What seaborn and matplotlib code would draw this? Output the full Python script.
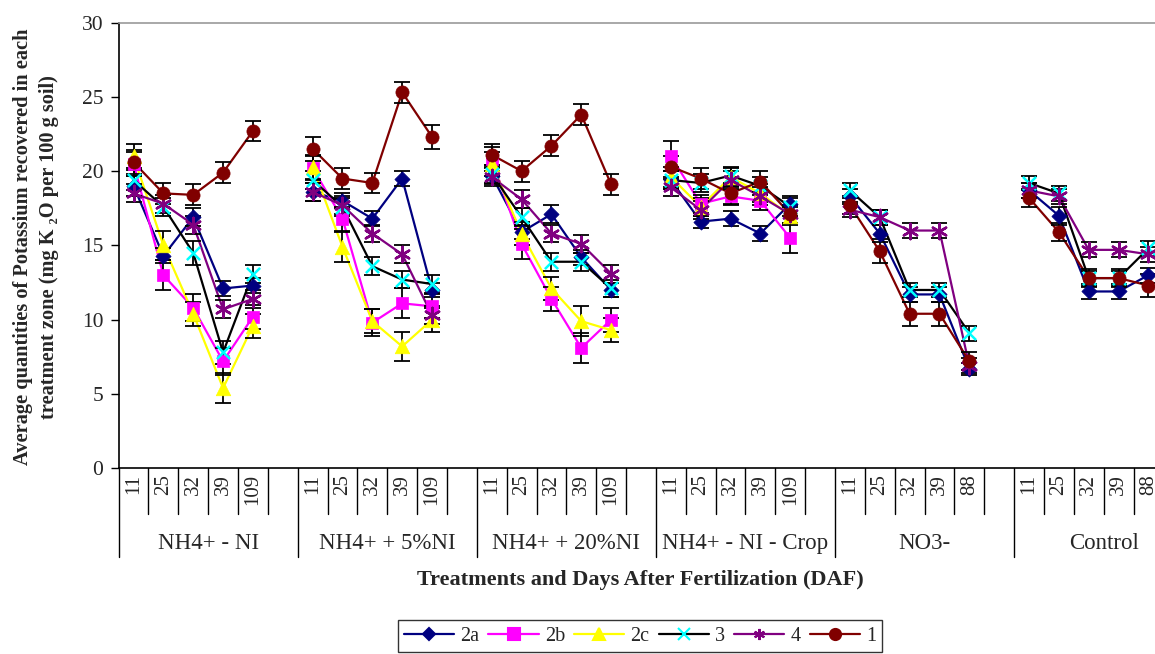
import numpy as np
import pandas as pd
import matplotlib
matplotlib.use("Agg")
import matplotlib.pyplot as plt
import matplotlib.transforms as mtransforms
from matplotlib.lines import Line2D
import seaborn as sns

# ---------------- data ----------------
treatments = ["NH4+ - NI", "NH4+ + 5%NI", "NH4+ + 20%NI", "NH4+ - NI - Crop", "NO3-", "Control"]
days = [
    ["11", "25", "32", "39", "109"],
    ["11", "25", "32", "39", "109"],
    ["11", "25", "32", "39", "109"],
    ["11", "25", "32", "39", "109"],
    ["11", "25", "32", "39", "88"],
    ["11", "25", "32", "39", "88"],
]
series_names = ["2a", "2b", "2c", "3", "4", "1"]
nan = np.nan

s2a = [19.0, 14.3, 16.9, 12.1, 12.3,
       18.6, 18.0, 16.8, 19.5, 12.0,
       19.7, 15.9, 17.1, 14.2, 12.0,
       19.4, 16.6, 16.8, 15.8, 17.8,
       18.3, 15.8, 11.7, 11.7, 6.7,
       18.7, 17.0, 11.9, 11.9, 13.0]
s2b = [20.5, 13.0, 10.8, 7.2, 10.2,
       20.2, 16.8, 9.8, 11.1, 10.9,
       20.8, 15.1, 11.4, 8.1, 10.0,
       21.0, 17.8, 18.3, 18.0, 15.5,
       nan, nan, nan, nan, nan,
       nan, nan, nan, nan, nan]
s2c = [21.0, 15.0, 10.4, 5.4, 9.6,
       20.3, 14.9, 9.9, 8.2, 10.0,
       20.5, 15.8, 12.1, 9.9, 9.3,
       19.6, 17.6, 19.6, 18.5, 17.0,
       nan, nan, nan, nan, nan,
       nan, nan, nan, nan, nan]
s3 = [19.4, 17.6, 14.5, 7.8, 13.1,
      19.4, 17.6, 13.6, 12.7, 12.4,
      19.8, 16.9, 13.9, 13.9, 12.1,
      19.4, 19.2, 19.7, 19.0, 17.6,
      18.7, 16.9, 12.0, 12.0, 9.1,
      19.2, 18.5, 12.8, 12.8, 14.8]
s4 = [18.5, 17.8, 16.4, 10.7, 11.4,
      18.6, 17.7, 15.8, 14.4, 10.3,
      19.6, 18.1, 15.8, 15.1, 13.1,
      18.9, 17.4, 19.4, 18.3, 17.1,
      17.4, 16.9, 16.0, 16.0, 6.9,
      18.7, 18.3, 14.7, 14.7, 14.4]
s1 = [20.6, 18.5, 18.4, 19.9, 22.7,
      21.5, 19.5, 19.2, 25.3, 22.3,
      21.1, 20.0, 21.7, 23.8, 19.1,
      20.3, 19.5, 18.5, 19.3, 17.1,
      17.7, 14.6, 10.4, 10.4, 7.2,
      18.2, 15.9, 12.8, 12.8, 12.3]

e2a = [0.7, 0.5, 0.6, 0.5, 0.5, 0.6, 0.5, 0.5, 0.5, 0.5, 0.6, 0.5, 0.6, 0.5, 0.5,
       0.6, 0.4, 0.5, 0.5, 0.5, 0.5, 0.6, 0.5, 0.5, 0.4, 0.5, 0.6, 0.5, 0.5, 0.5]
e2b = [0.8, 1.0, 0.9, 0.9, 0.8, 0.8, 0.8, 0.9, 1.0, 0.8, 0.8, 1.0, 0.8, 1.0, 0.8,
       1.0, 0.6, 0.6, 0.6, 1.0, nan, nan, nan, nan, nan, nan, nan, nan, nan, nan]
e2c = [0.8, 1.0, 0.8, 1.0, 0.8, 0.8, 1.0, 0.8, 1.0, 0.8, 0.8, 0.8, 0.8, 1.0, 0.8,
       0.7, 0.6, 0.6, 0.6, 0.6, nan, nan, nan, nan, nan, nan, nan, nan, nan, nan]
e3 = [0.7, 0.6, 0.8, 0.8, 0.6, 0.6, 0.6, 0.6, 0.6, 0.6, 0.6, 0.6, 0.6, 0.6, 0.6,
      0.6, 0.6, 0.6, 0.6, 0.6, 0.5, 0.5, 0.5, 0.5, 0.5, 0.5, 0.5, 0.5, 0.5, 0.5]
e4 = [0.6, 0.6, 0.6, 0.6, 0.6, 0.6, 0.6, 0.6, 0.6, 0.6, 0.6, 0.6, 0.6, 0.6, 0.6,
      0.6, 0.6, 0.6, 0.6, 0.6, 0.5, 0.5, 0.5, 0.5, 0.5, 0.5, 0.5, 0.5, 0.5, 0.5]
e1 = [0.8, 0.7, 0.7, 0.7, 0.7, 0.8, 0.7, 0.7, 0.7, 0.8, 0.7, 0.7, 0.7, 0.7, 0.7,
      0.7, 0.7, 0.7, 0.7, 0.6, 0.6, 0.8, 0.8, 0.8, 0.6, 0.6, 0.6, 0.6, 0.6, 0.8]

values = {"2a": s2a, "2b": s2b, "2c": s2c, "3": s3, "4": s4, "1": s1}
errors = {"2a": e2a, "2b": e2b, "2c": e2c, "3": e3, "4": e4, "1": e1}

line_colors = {"2a": "#000080", "2b": "#FF00FF", "2c": "#FFFF00", "3": "#000000", "4": "#800080", "1": "#800000"}
marker_colors = {"2a": "#000080", "2b": "#FF00FF", "2c": "#FFFF00", "3": "#00FFFF", "4": "#800080", "1": "#800000"}
markers = {"2a": "D", "2b": "s", "2c": "^", "3": "x", "4": (6, 2, 0), "1": "o"}
msizes = {"2a": 60, "2b": 80, "2c": 110, "3": 90, "4": 120, "1": 90}

# ---------------- long table ----------------
n_per = 5
slot = n_per + 1
rows = []
for s in series_names:
    for g in range(len(treatments)):
        for d in range(n_per):
            k = g * n_per + d
            rows.append(dict(series=s, group=g, pos=g * slot + d,
                             value=values[s][k], err=errors[s][k]))
df = pd.DataFrame(rows).dropna()

# ---------------- figure ----------------
sns.set_theme(style="white")
plt.rcParams["font.family"] = ["Liberation Serif", "DejaVu Serif"]

fig = plt.figure(figsize=(11.55, 6.54), dpi=100)
n_slots = len(treatments) * slot - 1
ax = fig.add_axes([118.6 / 1155, (654 - 468.3) / 654, n_slots * 29.85 / 1155, 445.8 / 654])

sns.lineplot(data=df, x="pos", y="value", hue="series", units="group", estimator=None,
             palette=line_colors, hue_order=series_names, legend=False, sort=False,
             linewidth=1.6, ax=ax, zorder=2)
ax.errorbar(df["pos"], df["value"], yerr=df["err"], fmt="none", ecolor="black",
            elinewidth=1.3, capsize=5.5, capthick=1.3, zorder=3)
for s in series_names:
    sub = df[df["series"] == s]
    m = markers[s]
    kw = dict(x=sub["pos"], y=sub["value"], marker=m, s=msizes[s], ax=ax, zorder=4, legend=False)
    if m in ("x",) or isinstance(m, tuple):
        sns.scatterplot(color=marker_colors[s], linewidth=1.8, **kw)
    else:
        sns.scatterplot(color=marker_colors[s], edgecolor=marker_colors[s], linewidth=0.5, **kw)

# axes styling
ax.set_xlim(-0.5, n_slots - 0.5)
ax.set_ylim(0, 30)
ax.set_yticks(range(0, 31, 5))
ax.tick_params(axis="y", which="major", left=True, length=6, width=1, color="black",
               labelsize=15.5, pad=5)
tick_pos = [g * slot + d for g in range(len(treatments)) for d in range(n_per)]
tick_lab = [days[g][d] for g in range(len(treatments)) for d in range(n_per)]
ax.set_xticks(tick_pos)
ax.set_xticklabels(tick_lab, rotation=90, fontsize=15)
ax.tick_params(axis="x", length=0, pad=4)
ax.set_xlabel("")
ax.set_ylabel("")
for sp in ["left", "bottom"]:
    ax.spines[sp].set_color("black")
    ax.spines[sp].set_linewidth(1.2)
ax.spines["top"].set_color("#9a9a9a")
ax.spines["top"].set_linewidth(1.2)
ax.spines["right"].set_visible(False)

# category dividers and group labels
trans = mtransforms.blended_transform_factory(ax.transData, ax.transAxes)
for k in range(0, n_slots):
    xk = k - 0.5
    if k % slot == 0:
        ax.plot([xk, xk], [0, -0.20], transform=trans, clip_on=False, color="black", lw=1.0)
    else:
        ax.plot([xk, xk], [0, -0.103], transform=trans, clip_on=False, color="black", lw=1.0)
for g, name in enumerate(treatments):
    ax.text(g * slot + 2.5, -0.168, name, transform=trans, ha="center", va="center", fontsize=16.5)

# titles
fig.text(640 / 1155, 1 - 580 / 654, "Treatments and Days After Fertilization (DAF)",
         ha="center", va="center", fontsize=16, fontweight="bold")
fig.text(36 / 1155, 1 - 247 / 654,
         "Average quantities of Potassium recovered in each\ntreatment zone (mg K \u2082O per 100 g soil)",
         ha="center", va="center", rotation=90, fontsize=14.7, fontweight="bold",
         multialignment="center", linespacing=1.45)

# legend
handles = []
for s in series_names:
    m = markers[s]
    handles.append(Line2D([0], [0], color=line_colors[s], lw=1.6, marker=m,
                          markerfacecolor=marker_colors[s], markeredgecolor=marker_colors[s],
                          markersize=8 if m != "D" else 6.5, markeredgewidth=1.5))
leg = fig.legend(handles, series_names, loc="center", bbox_to_anchor=(640 / 1155, 1 - 636 / 654),
                 ncol=6, frameon=True, fontsize=14.5, handlelength=2.5, handletextpad=0.3,
                 columnspacing=0.45, borderpad=0.3, borderaxespad=0, fancybox=False)
leg.get_frame().set_edgecolor("black")
leg.get_frame().set_linewidth(1.0)

fig.savefig("out.png", dpi=100)
